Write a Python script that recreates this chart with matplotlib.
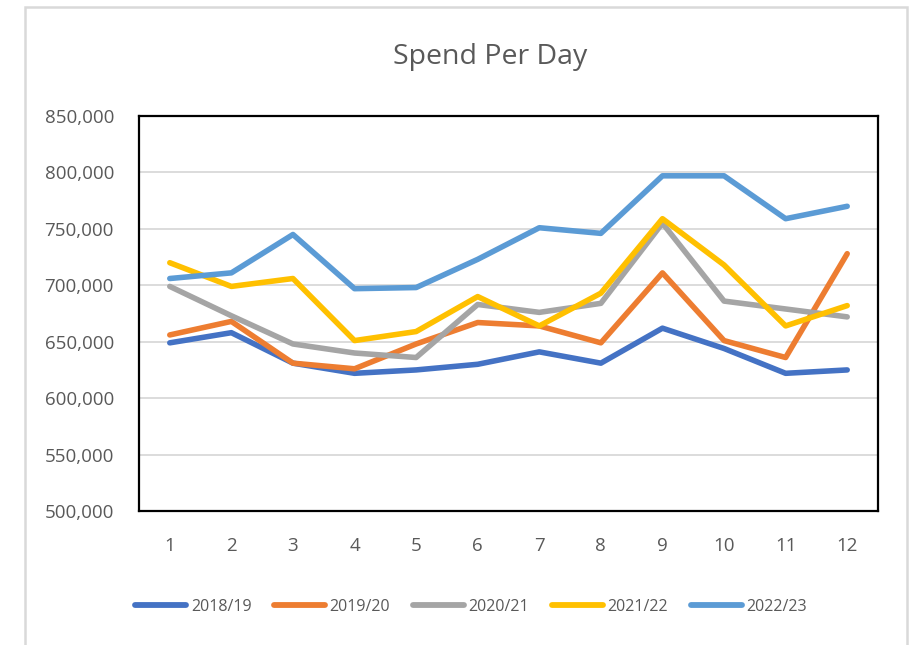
import matplotlib.pyplot as plt
from matplotlib.patches import Rectangle
from matplotlib.ticker import FuncFormatter

plt.rcParams['font.family'] = ['Open Sans', 'DejaVu Sans']

months = list(range(1, 13))
years = ['2018/19', '2019/20', '2020/21', '2021/22', '2022/23']

spend_1819 = [649000, 658000, 631000, 622000, 625000, 630000, 641000, 631000, 662000, 644000, 622000, 625000]
spend_1920 = [656000, 668000, 631000, 626000, 648000, 667000, 664000, 649000, 711000, 651000, 636000, 728000]
spend_2021 = [699000, 673000, 648000, 640000, 636000, 683000, 676000, 684000, 755000, 686000, 679000, 672000]
spend_2122 = [720000, 699000, 706000, 651000, 659000, 690000, 664000, 693000, 759000, 718000, 664000, 682000]
spend_2223 = [706000, 711000, 745000, 697000, 698000, 723000, 751000, 746000, 797000, 797000, 759000, 770000]

series = [spend_1819, spend_1920, spend_2021, spend_2122, spend_2223]
colors = ['#4472C4', '#ED7D31', '#A5A5A5', '#FFC000', '#5B9BD5']
txt = '#595959'

fig = plt.figure(figsize=(9.12, 6.45), dpi=100)
W, H = 912, 645

# light chart-area border
fig.patches.append(Rectangle((25 / W, -0.02), (907 - 25) / W, (645 - 7) / H + 0.02,
                             transform=fig.transFigure, fill=False,
                             edgecolor='#d9d9d9', linewidth=1.8))

ax = fig.add_axes([139 / W, 1 - 511 / H, (878 - 139) / W, (511 - 116) / H])

for vals, name, c in zip(series, years, colors):
    ax.plot(months, vals, color=c, linewidth=4.0, label=name,
            solid_capstyle='round', solid_joinstyle='round')

ax.set_xlim(0.5, 12.5)
ax.set_ylim(500000, 850000)
ax.set_xticks(months)
ax.set_yticks(range(500000, 850001, 50000))
ax.yaxis.set_major_formatter(FuncFormatter(lambda v, p: f'{int(v):,}'))
ax.grid(axis='y', color='#d9d9d9', linewidth=1.3)
ax.set_axisbelow(True)
ax.tick_params(length=0, labelsize=13.5, labelcolor=txt)
ax.tick_params(axis='y', pad=18)
ax.tick_params(axis='x', pad=19)
for s in ax.spines.values():
    s.set_color('black')
    s.set_linewidth(1.6)

fig.text(490 / W, 1 - 57 / H, 'Spend Per Day', ha='center', va='center',
         fontsize=20.5, color=txt)

leg = fig.legend(loc='center', bbox_to_anchor=(471 / W, 1 - 607 / H), ncol=5,
                 frameon=False, fontsize=11.5, handlelength=3.2,
                 handletextpad=0.3, columnspacing=1.4, labelcolor=txt)
for h in leg.get_lines():
    h.set_linewidth(4.2)
    h.set_solid_capstyle('round')

fig.savefig('out.png', dpi=100)
